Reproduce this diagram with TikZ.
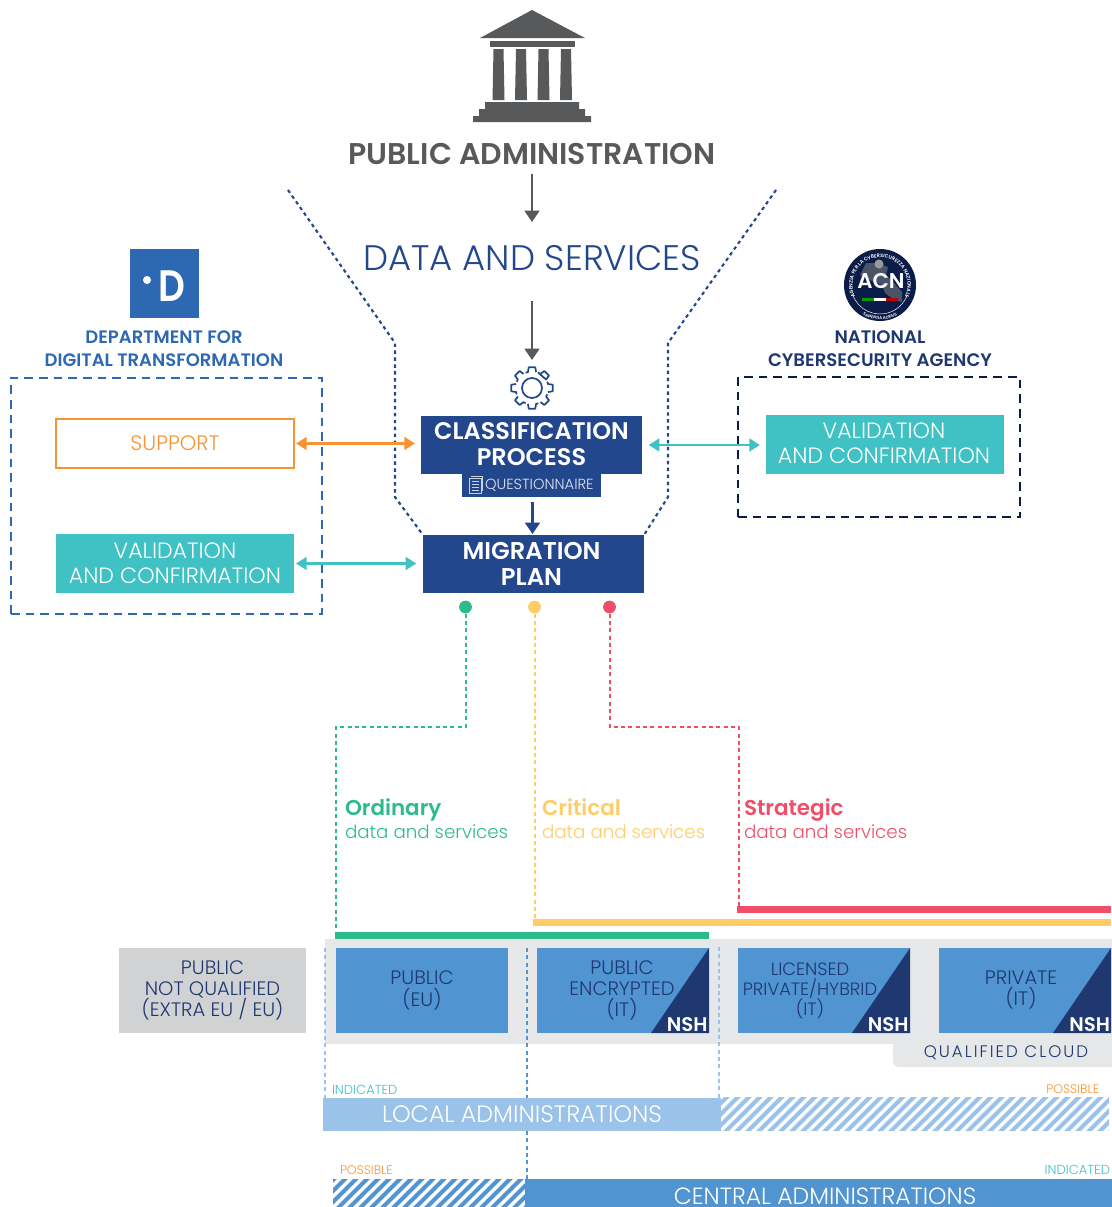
\documentclass[tikz,border=0pt]{standalone}
\usepackage{fontspec}
\setmainfont{Poppins}
\newfontfamily\fl{Poppins Light}
\newfontfamily\fb{Poppins SemiBold}
\usetikzlibrary{arrows.meta,calc,decorations.text}
\definecolor{navy}{HTML}{23478C}
\definecolor{dnavy}{HTML}{1F3870}
\definecolor{gr}{HTML}{58595B}
\definecolor{teal2}{HTML}{40C1C3}
\definecolor{oran}{HTML}{F79332}
\definecolor{dblue}{HTML}{2D69B3}
\definecolor{cblue}{HTML}{5094D1}
\definecolor{lblue}{HTML}{9BC2E8}
\definecolor{ggreen}{HTML}{2DBB8B}
\definecolor{yy}{HTML}{FFCC66}
\definecolor{rr}{HTML}{F04D68}
\definecolor{lg}{HTML}{E6E7E9}
\definecolor{mg}{HTML}{D1D2D4}
\definecolor{ink}{HTML}{0C1C48}
\newcommand{\px}[2]{\fontsize{#1pt}{#2pt}\selectfont}
\newcommand{\bxn}[6]{\node[boxx,minimum width={(#4-#2)*0.75pt},minimum height={(#5-#3)*0.75pt},#6] (#1) at ({(#2+#4)/2},{(#3+#5)/2})}
\newcommand{\hatch}[5]{\begin{scope}\clip (#1,#2) rectangle (#3,#4);
 \foreach \i in {-120,-109,...,500} {\draw[#5,line width=3pt] ({#1+\i},#4+5) -- ({#1+\i+(#4-#2)+10},#2-5);}\end{scope}}
\tikzset{
 boxx/.style={inner sep=0pt,outer sep=0pt,align=center,line width=0pt},
 txt/.style={inner sep=0pt,outer sep=0pt,align=center},
 txtl/.style={inner sep=0pt,outer sep=0pt,align=left,anchor=base west},
 garrow/.style={draw=gr,line width=2pt,-{Triangle[length=8.5pt,width=11pt]}},
 narrow/.style={draw=navy,line width=2pt,-{Triangle[length=8.5pt,width=11pt]}},
 darrow/.style={line width=1.8pt,{Triangle[length=8pt,width=9.5pt]}-{Triangle[length=8pt,width=9.5pt]}},
 funnel/.style={draw=navy,line width=1.6pt,dash pattern=on 2.6pt off 2.6pt},
 dline/.style={line width=1.5pt,dash pattern=on 3pt off 2.5pt},
 dashb/.style={line width=1.4pt,dash pattern=on 6.5pt off 4.5pt},
 vline/.style={line width=1.7pt,dash pattern=on 3pt off 2.5pt},
 cloud/.style={fill=cblue,text=dnavy,font=\fl\px{14.6}{16}},
 bar/.style={inner sep=0pt,outer sep=0pt,line width=0pt},
 nsh/.style={txt,text=white,font=\fb\px{14.8}{16},anchor=south east},
 lab/.style={inner sep=0pt,outer sep=0pt,font=\fl\px{9.3}{10}},
 labi/.style={inner sep=0pt,outer sep=0pt,font=\fl\px{9.8}{10}},
}
\begin{document}
\begin{tikzpicture}[x=0.75pt,y=-0.75pt]
\useasboundingbox (0,0) rectangle (1112,1207);
% building
\fill[gr] (480,38) -- (532,10) -- (585,38) -- cycle;
\fill[gr] (490,41) rectangle (575,47);
\foreach \c in {498.5,521,543.5,566}
  \fill[gr] (\c-5,49) -- (\c+5,49) -- (\c+6,100) -- (\c-6,100) -- cycle;
\fill[gr] (485,102) -- (579,102) -- (579,109) -- (585,109) -- (585,116) -- (591,116) -- (591,122) -- (473,122) -- (473,116) -- (479,116) -- (479,109) -- (485,109) -- cycle;
\node[txt,text=gr,font=\fb\px{22.5}{26}] (pa) at (532,154) {PUBLIC ADMINISTRATION};
\node[txt,text=navy,font=\fl\px{26.6}{30}] (ds) at (532,258) {DATA AND SERVICES};
% funnel
\bxn{mig}{423}{535}{644}{593}{fill=navy}{};
\node[txt,text=white,font=\fb\px{18.2}{19}] (migt) at (531.5,564) {MIGRATION\\PLAN};
\bxn{cls}{421}{416}{642}{474}{fill=navy}{};
\node[txt,text=white,font=\fb\px{18}{19}] (clst) at (531.5,444) {CLASSIFICATION\\PROCESS};
\bxn{que}{462}{474}{601}{497}{fill=navy}{};
\node[txt,text=white!85!navy,font=\fl\px{11}{12},anchor=west] (quet) at (485,485) {QUESTIONNAIRE};
\draw[white!75!navy,line width=.7pt] (469,478) rectangle (481,493);
\draw[white!75!navy,line width=.7pt] (471,476.5) -- (482.5,476.5) -- (482.5,491);
\foreach \yy in {481,484,487,490} \draw[white!75!navy,line width=.7pt] (472,\yy) -- (479,\yy);
\coordinate (fl1) at (288,190); \coordinate (fl2) at (395,343); \coordinate (fl3) at (395,497);
\coordinate (fr1) at (776,190); \coordinate (fr2) at (668,343); \coordinate (fr3) at (668,497);
\draw[funnel] (fl1) -- (fl2) -- (fl3) -- (mig.north west);
\draw[funnel] (fr1) -- (fr2) -- (fr3) -- (mig.north east);
% gear
\coordinate (gear) at (532,388);
\draw[navy,line width=1.3pt,line join=round,fill=white]
 \foreach \a in {0,45,...,315} {
  ($(gear)+({\a-22.5}:16.5)$) -- ($(gear)+({\a-14}:16.5)$) -- ($(gear)+({\a-9}:21)$) -- ($(gear)+({\a+9}:21)$) -- ($(gear)+({\a+14}:16.5)$) } -- cycle;
\node[draw=navy,line width=1.3pt,circle,minimum size=15pt,inner sep=0pt] (gearc) at (gear) {};
\coordinate (a1s) at (532,174); \coordinate (a1e) at (532,222);
\coordinate (a2s) at (532,301); \coordinate (a2e) at (532,360);
\coordinate (a3s) at (532.5,502); \coordinate (a3e) at (532.5,534);
\draw[garrow] (a1s) -- (a1e);
\draw[garrow] (a2s) -- (a2e);
\draw[narrow] (a3s) -- (a3e);
% DTD
\bxn{dlogo}{130}{249}{199}{318}{fill=dblue}{};
\node[txt,text=white,font=\fb\px{33}{34},xscale=.85] (dlet) at (172,286) {D};
\fill[white] (147,280) circle (3pt);
\node[txt,text=dblue,font=\fb\px{13.5}{17.2}] (dtit) at (164,348.5) {DEPARTMENT FOR\\DIGITAL TRANSFORMATION};
\bxn{dbox}{11}{378}{322}{614}{draw=dblue,dashb}{};
\bxn{sup}{56}{419}{294}{468}{draw=oran,line width=1.5pt,text=oran,font=\fl\px{15.7}{18}}{SUPPORT};
\bxn{val1}{56}{534}{294}{593}{fill=teal2,text=white,font=\fl\px{16.6}{18.5}}{VALIDATION\\AND CONFIRMATION};
% ACN
\begin{scope}[shift={(880,285)},x=0.75pt,y=0.75pt]
 \fill[ink] (0,0) circle (27pt);
 \fill[gray!55!ink] (-14,22) -- (-3,22) -- (8,18) -- (6,10) -- (14,2) -- (22,-7) -- (22,-17) -- (13,-14) -- (5,-8) -- (2,0) -- (-8,4) -- (-20,10) -- cycle;
 \draw[white,line width=.35pt] (200:29) arc[start angle=200,end angle=340,radius=29];
 \fill[gray!80!white] (-1,21) circle (3.4pt);
 \node[txt,text=white,font=\fb\px{16}{18}] (acnl) at (1,4) {ACN};
 \fill[green!60!black] (-18,-16) rectangle (-6,-13);
 \fill[white] (-6,-16) rectangle (6,-13);
 \fill[red!75!black] (6,-16) rectangle (18,-13);
 \path[decorate,decoration={text along path,text align=center,text={|\fb\fontsize{3.7pt}{4pt}\selectfont\color{white}|AGENZIA PER LA CYBERSICUREZZA NAZIONALE}}] (225:27.5) arc[start angle=225,end angle=-45,radius=27.5];
 \path[decorate,decoration={text along path,text align=center,text={|\fb\fontsize{3pt}{4pt}\selectfont\color{white}|SAPIENTIA ACRIUS}}] (230:34.5) arc[start angle=230,end angle=310,radius=34.5];
\end{scope}
\node[txt,text=dnavy,font=\fb\px{13.6}{17.2}] (ntit) at (880,348.5) {NATIONAL\\CYBERSECURITY AGENCY};
\bxn{nbox}{738}{377}{1020}{517}{draw=ink,dashb}{};
\bxn{val2}{766}{415}{1004}{474}{fill=teal2}{};
\node[txt,text=white,font=\fl\px{16.6}{18.5}] (val2t) at (884,443.5) {VALIDATION\\AND CONFIRMATION};
\draw[darrow,draw=oran,fill=oran,shorten <=1.5pt,shorten >=4.5pt] (sup.east) -- (sup.east -| cls.west);
\draw[darrow,draw=teal2,fill=teal2,shorten <=1.5pt,shorten >=5pt] (val1.east) -- (val1.east -| mig.west);
\draw[darrow,draw=teal2,fill=teal2,shorten <=5pt,shorten >=4.5pt] (cls.east) -- (cls.east -| val2.west);
% dots
\node[circle,fill=ggreen,minimum size=9.6pt,inner sep=0pt] (gdot) at (465.5,607) {};
\node[circle,fill=yy,minimum size=9.6pt,inner sep=0pt] (ydot) at (534.5,607) {};
\node[circle,fill=rr,minimum size=9.6pt,inner sep=0pt] (rdot) at (609.5,607) {};
% cloud area
\fill[lg] (325,939) rectangle (1112,1044);
\fill[lg] (1112,1044) -- (893,1044) -- (893,1060) .. controls (893,1065) and (895,1067) .. (900,1067) -- (1112,1067) -- cycle;
\bxn{gbar}{335}{932}{709}{939}{fill=ggreen}{};
\bxn{ybar}{533}{919}{1111}{926}{fill=yy}{};
\bxn{rbar}{737}{906}{1111}{913}{fill=rr}{};
\coordinate (g1) at (465.5,727); \coordinate (g2) at (336,727);
\coordinate (r1) at (609.5,727); \coordinate (r2) at (739,727);
\draw[dline,draw=ggreen] (gdot) -- (g1) -- (g2) -- (g2 |- gbar.north);
\draw[dline,draw=yy] (ydot) -- (ydot |- ybar.north);
\draw[dline,draw=rr] (rdot) -- (r1) -- (r2) -- (r2 |- rbar.north);
\foreach \cc/\xx/\n/\w in {ggreen/345/Ordinary/or,yy/542/Critical/cr,rr/744/Strategic/st}{
 \node[txtl,text=\cc,font=\fb\px{16.1}{18}] (\w t) at (\xx,815) {\n};
 \node[txtl,text=\cc,font=\fl\px{13.7}{15}] (\w s) at (\xx,838) {data and services};
}
% vertical dotted
\coordinate (v1) at (325,948); \coordinate (v2) at (719,947); \coordinate (v3) at (527,948);
\bxn{lad}{323}{1098}{721}{1131}{fill=lblue,text=white,font=\fl\px{17.8}{19}}{LOCAL ADMINISTRATIONS};
\bxn{cad}{525}{1179}{1112}{1207}{fill=cblue}{};
\draw[vline,draw=lblue] (v1) -- (v1 |- lad.north);
\draw[vline,draw=lblue] (v2) -- (v2 |- lad.north);
\draw[vline,draw=cblue] (v3) -- (v3 |- lad.north);
\draw[vline,draw=cblue] (v3 |- lad.south) -- (v3 |- cad.north);
\node[txt,text=white,font=\fl\px{17.6}{18},anchor=base] (cadt) at (825,1204.5) {CENTRAL ADMINISTRATIONS};
\hatch{721}{1097}{1109}{1130}{lblue}
\hatch{333}{1179}{525}{1207}{cblue}
\node[labi,text=teal2,anchor=west] (i1) at (332,1089.5) {INDICATED};
\node[lab,text=oran,anchor=east] (p1) at (1099,1089.5) {POSSIBLE};
\node[lab,text=oran,anchor=west] (p2) at (340,1170) {POSSIBLE};
\node[labi,text=teal2,anchor=east] (i2) at (1110,1170) {INDICATED};
% boxes
\bxn{npq}{119}{948}{306}{1033}{fill=mg,text=dnavy,font=\fl\px{14.6}{15.8}}{PUBLIC\\NOT QUALIFIED\\(EXTRA EU / EU)};
\bxn{c1}{336}{948}{508}{1033}{cloud}{PUBLIC\\(EU)};
\foreach \xl in {537,738,939} {
 \fill[cblue] (\xl,948) rectangle (\xl+172,1033);
 \fill[dnavy] (\xl+172,948) -- (\xl+172,1033) -- (\xl+114,1033) -- cycle;
}
\node[txt,text=dnavy,font=\fl\px{14.6}{15.8}] (c2) at (622,990.5) {PUBLIC\\ENCRYPTED\\(IT)};
\node[txt,text=dnavy,font=\fl\px{13.4}{15}] (c3) at (810,991) {LICENSED\\PRIVATE/HYBRID\\(IT)};
\node[txt,text=dnavy,font=\fl\px{14.6}{16}] (c4) at (1021,990) {PRIVATE\\(IT)};
\node[nsh] (n2) at (707.5,1032) {NSH};
\node[nsh] (n3) at (908.5,1032) {NSH};
\node[nsh] (n4) at (1110,1032) {NSH};
\node[txt,text=dnavy,font=\fl\px{12.5}{14}\addfontfeatures{LetterSpace=12}] (qc) at (1006,1052.5) {QUALIFIED CLOUD};
\end{tikzpicture}
\end{document}
